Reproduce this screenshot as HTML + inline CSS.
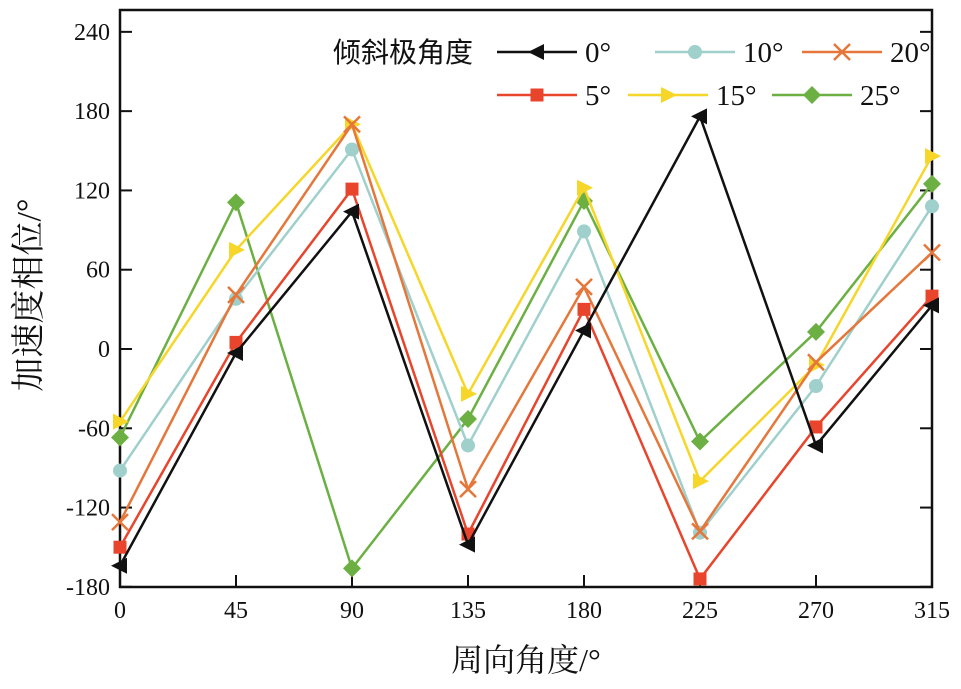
<!DOCTYPE html>
<html><head><meta charset="utf-8"><style>
html,body{margin:0;padding:0;background:#fff;}
svg{display:block;font-family:"Liberation Serif","Noto Serif CJK SC",serif;}
</style></head><body>
<svg id="chart" width="961" height="689" viewBox="0 0 961 689"></svg>
<script>
const categories=[0,45,90,135,180,225,270,315];
const yTicks=[-180,-120,-60,0,60,120,180,240];
const seriesNames=["0°","5°","10°","15°","20°","25°"];
const s0=[-164,-3,104,-148,14,176,-73,33];
const s5=[-150,5,121,-140,30,-174,-59,40];
const s10=[-92,38,151,-73,89,-139,-28,108];
const s15=[-55,75,170,-34,122,-100,-12,146];
const s20=[-131,41,170,-106,47,-138,-10,73];
const s25=[-67,111,-166,-53,112,-70,13,125];
const seriesValues=[s0,s5,s10,s15,s20,s25];
const colors=["#111111","#e8452c","#9fd0cc","#f5d629","#e5773a","#6cb043"];
const markers=["tri-left","square","circle","tri-right","cross","diamond"];

const L=120,R=932,T=10,B=587;
const xs=v=>L+(v-0)/(315-0)*(R-L);
const ys=v=>349-v*(555/420);
const NS="http://www.w3.org/2000/svg";
const svg=document.getElementById('chart');
function mk(tag,attrs,parent){const e=document.createElementNS(NS,tag);for(const k in attrs)e.setAttribute(k,attrs[k]);(parent||svg).appendChild(e);return e;}

const frame=mk('rect',{x:L,y:T,width:R-L,height:B-T,fill:'none',stroke:'#111','stroke-width':2.5});



yTicks.forEach(t=>{
  const y=ys(t);
  const tk=mk('line',{x1:L,x2:L+12,y1:y,y2:y,stroke:'#111','stroke-width':2});
  
  
  const tk2=mk('line',{x1:R-12,x2:R,y1:y,y2:y,stroke:'#111','stroke-width':2});
  
  
  const lb=mk('text',{x:L-10,y:y+8,'text-anchor':'end','font-size':24,fill:'#111'});
  lb.textContent=t;
  
  
});
categories.forEach(c=>{
  const x=xs(c);
  const tk=mk('line',{x1:x,x2:x,y1:B,y2:B-12,stroke:'#111','stroke-width':2});
  
  
  const lb=mk('text',{x:x,y:B+31,'text-anchor':'middle','font-size':24,fill:'#111'});
  lb.textContent=c;
  
  
});

const xt=mk('text',{x:526,y:671,'text-anchor':'middle','font-size':32,fill:'#111'});
xt.textContent='周向角度/°';


const yt=mk('text',{x:40,y:295,'text-anchor':'middle','font-size':34,fill:'#111',transform:'rotate(-90 40 295)'});
yt.textContent='加速度相位/°';



function marker(type,x,y,col,g){
  const s=8;
  if(type==='square')return mk('rect',{x:x-6.5,y:y-6.5,width:13,height:13,fill:col},g);
  if(type==='circle')return mk('circle',{cx:x,cy:y,r:7,fill:col},g);
  if(type==='diamond')return mk('polygon',{points:`${x},${y-9} ${x+9},${y} ${x},${y+9} ${x-9},${y}`,fill:col},g);
  if(type==='tri-left')return mk('polygon',{points:`${x-9},${y} ${x+7},${y-8} ${x+7},${y+8}`,fill:col},g);
  if(type==='tri-right')return mk('polygon',{points:`${x+9},${y} ${x-7},${y-8} ${x-7},${y+8}`,fill:col},g);
  return mk('path',{d:`M${x-s},${y-s}L${x+s},${y+s}M${x-s},${y+s}L${x+s},${y-s}`,stroke:col,'stroke-width':2.5,fill:'none'},g);
}

const order=[5,3,2,4,1,0];
order.forEach(i=>{
  const g=mk('g',{});
  
  
  const pts=seriesValues[i].map((v,j)=>xs(categories[j])+','+ys(v)).join(' ');
  const pl=mk('polyline',{points:pts,fill:'none',stroke:colors[i],'stroke-width':2.5},g);
  
  
  seriesValues[i].forEach((v,j)=>{
    const m=marker(markers[i],xs(categories[j]),ys(v),colors[i],g);
    
    
  });
});

const lg=mk('g',{});


const lt=mk('text',{x:333,y:62,'font-size':28,fill:'#111','font-family':'"Noto Sans CJK SC",sans-serif'},lg);
lt.textContent='倾斜极角度';


const legPos=[[497,52],[497,95],[655,52],[628,95],[802,52],[772,95]];
legPos.forEach((p,i)=>{
  const e=mk('g',{},lg);
  
  
  mk('line',{x1:p[0],x2:p[0]+80,y1:p[1],y2:p[1],stroke:colors[i],'stroke-width':2.5},e);
  marker(markers[i],p[0]+40,p[1],colors[i],e);
  const t=mk('text',{x:p[0]+88,y:p[1]+10,'font-size':29,fill:'#111'},e);
  t.textContent=seriesNames[i];
});
</script>
</body></html>
